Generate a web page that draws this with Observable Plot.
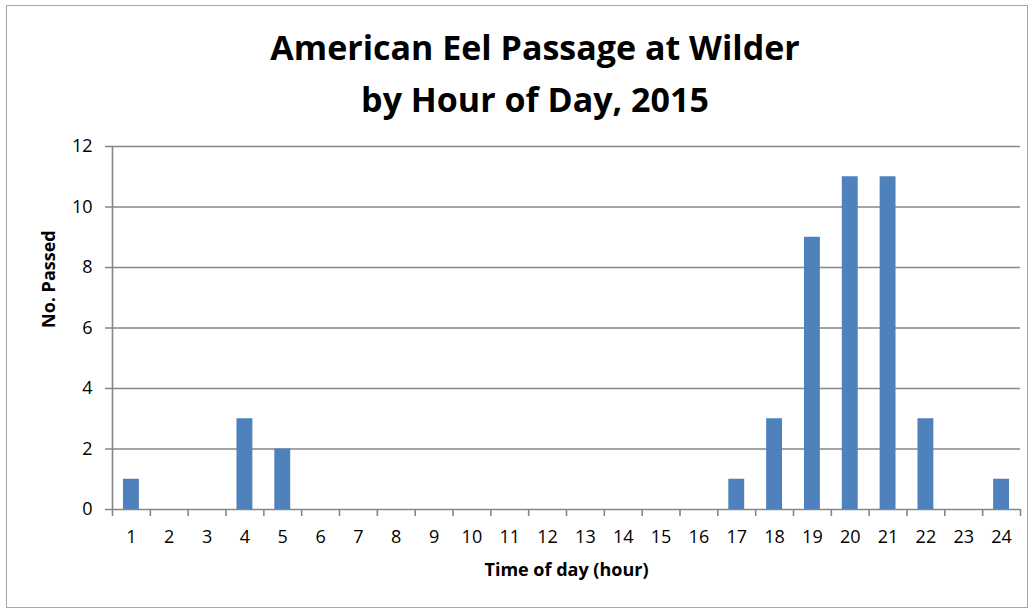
<!DOCTYPE html>
<html>
<head>
<meta charset="utf-8">
<script src="https://cdn.jsdelivr.net/npm/d3@7"></script>
<script src="https://cdn.jsdelivr.net/npm/@observablehq/plot@0.6"></script>
<style>
  html, body { margin: 0; padding: 0; background: #fff; overflow: hidden; }
  #wrap { position: relative; width: 1033px; height: 611px; }
  #border { position: absolute; left: 6px; top: 5px; width: 1022px; height: 603px; border: 1.5px solid #a6a6a6; box-sizing: border-box; }
  #title { position: relative; width: 1070px; height: 125px; box-sizing: border-box; padding-top: 21px;
           text-align: center; font-family: "Open Sans", sans-serif; font-weight: bold; font-size: 34px; line-height: 52px; color: #000; }
  #chart { position: absolute; left: 0; top: 125px; }
</style>
</head>
<body>
<div id="wrap">
  <div id="border"></div>
  <div id="title">American Eel Passage at Wilder<br>by Hour of Day, 2015</div>
  <div id="chart"></div>
</div>
<script>
const hours = [1,2,3,4,5,6,7,8,9,10,11,12,13,14,15,16,17,18,19,20,21,22,23,24];
const passed = [1,0,0,3,2,0,0,0,0,0,0,0,0,0,0,0,1,3,9,11,11,3,0,1];
const yTicks = [0,2,4,6,8,10,12];
const xTitle = "Time of day (hour)";
const yTitle = "No. Passed";

const data = hours.map((h, i) => ({hour: h, count: passed[i]}));

const W = 1033, H = 486;
const mL = 112, mR = 13, mT = 21, mB = 102;
const step = (W - mL - mR) / hours.length;
const grid = "#868686";
const font = "Open Sans, sans-serif";

const chart = Plot.plot({
  width: W, height: H,
  marginLeft: mL, marginRight: mR, marginTop: mT, marginBottom: mB,
  style: {fontFamily: font, fontSize: "18px", color: "#000", background: "transparent"},
  x: {type: "band", domain: hours, paddingInner: 0.58, paddingOuter: 0.29, round: false, label: null},
  y: {domain: [0, 12], label: null},
  marks: [
    Plot.ruleY(yTicks, {y: d => d, stroke: grid, strokeWidth: 1.6, insetLeft: -7}),
    Plot.ruleX([hours[0]], {x: d => d, y1: 0, y2: 12, dx: -step / 2, stroke: grid, strokeWidth: 1.6}),
    Plot.ruleX(hours, {x: d => d, y1: 0, y2: 0, insetBottom: -7, dx: -step / 2, stroke: grid, strokeWidth: 1.6}),
    Plot.ruleX([hours[hours.length - 1]], {x: d => d, y1: 0, y2: 0, insetBottom: -7, dx: step / 2, stroke: grid, strokeWidth: 1.6}),
    Plot.barY(data, {x: "hour", y: "count", fill: "#4F81BD"}),
    Plot.axisX({tickSize: 0, tickPadding: 21, fontSize: 18, label: null}),
    Plot.axisY({ticks: yTicks, tickSize: 0, tickPadding: 20, fontSize: 18, label: null}),
    Plot.text([xTitle], {frameAnchor: "bottom", dy: 66, fontWeight: "bold", fontSize: 18, fill: "#000"}),
    Plot.text([yTitle], {frameAnchor: "left", dx: -63, rotate: -90, fontWeight: "bold", fontSize: 18, fill: "#000"})
  ]
});
document.getElementById("chart").appendChild(chart);
</script>
</body>
</html>
